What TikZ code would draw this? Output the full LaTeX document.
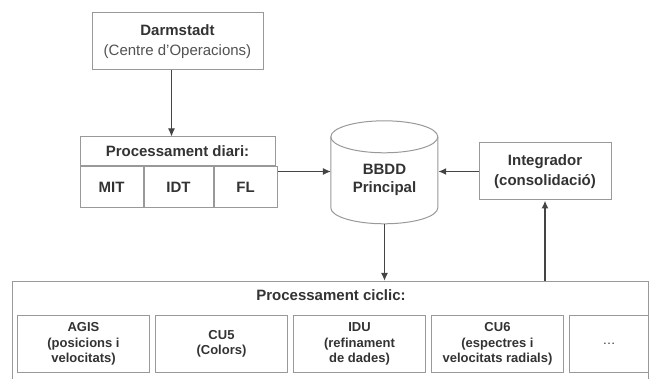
\documentclass[tikz,border=0pt]{standalone}
\usepackage{fontspec}
\setmainfont{Liberation Sans}
\usetikzlibrary{positioning,arrows.meta}
\definecolor{linegrey}{HTML}{999999}
\definecolor{arrowgrey}{HTML}{444444}
\definecolor{textgrey}{HTML}{333333}
\begin{document}
\begin{tikzpicture}[x=1pt,y=-1pt]

		\tikzstyle{box}=[rectangle,
			draw=linegrey,fill=white,line width=1pt,text=textgrey,
			inner sep=0pt,align=center,
			font=\fontsize{15}{20}\selectfont\bfseries]
		\tikzstyle{cell}=[box,minimum height=41pt]
		\tikzstyle{task}=[box,minimum width=132pt,minimum height=57pt,
			font=\fontsize{13}{15.5}\selectfont\bfseries]
		\tikzstyle{flow}=[->,>={Latex[length=8pt,width=7pt]},draw=arrowgrey,line width=1pt]
		\tikzstyle{bigflow}=[flow,line width=1.8pt]

		\useasboundingbox (0,0) rectangle (649,379);

		\node[box,minimum width=171pt,minimum height=57pt]	(darm)	at (177.5,41.5)	{Darmstadt\\{\mdseries\color{textgrey!85}(Centre d'Operacions)}};

		\node[box,minimum width=195pt,minimum height=29pt]	(diari)	at (177.5,151.5)	{Processament diari:};
		\node[cell,minimum width=63pt,anchor=north west]	(mit)	at (diari.south west)	{MIT};
		\node[cell,minimum width=69pt,right=0pt of mit]	(idt)	{IDT};
		\node[cell,minimum width=63pt,right=0pt of idt]	(fl)	{FL};

		\node[minimum width=107pt,minimum height=103pt,inner sep=0pt]	(bbdd)	at (384.5,172.5)	{};
		\draw[draw=linegrey,line width=1pt,fill=white] (bbdd.north west) ++(0,16) coordinate (bbddtop)
			-- ++(0,71) arc[start angle=180,end angle=360,x radius=53.5pt,y radius=16pt]
			-- ++(0,-71) arc[start angle=0,end angle=180,x radius=53.5pt,y radius=16pt] -- cycle;
		\draw[draw=linegrey,line width=1pt] (bbddtop) arc[start angle=180,end angle=360,x radius=53.5pt,y radius=16pt];
		\node[text=textgrey,align=center,font=\fontsize{15}{18}\selectfont\bfseries]	(bbddlabel)	at (384.5,180)	{BBDD\\Principal};

		\node[box,minimum width=132pt,minimum height=57pt]	(integ)	at (545,171.5)	{Integrador\\(consolidació)};

		\node[box,minimum width=636pt,minimum height=120pt,anchor=north west]	(ciclic)	at (12,281)	{};
		\node[text=textgrey,font=\fontsize{15}{19}\selectfont\bfseries]	(cicliclabel)	at (331,295)	{Processament ciclic:};

		\node[task,anchor=north west]	(agis)	at (17,315)	{AGIS\\(posicions i\\velocitats)};
		\node[task,right=5pt of agis]	(cufive)	{CU5\\(Colors)};
		\node[task,right=5pt of cufive]	(idu)	{IDU\\(refinament\\de dades)};
		\node[task,right=5pt of idu]	(cusix)	{CU6\\(espectres i\\velocitats radials)};
		\node[task,minimum width=79pt,right=5pt of cusix,font=\fontsize{13}{15.5}\selectfont]	(more)	{\ldots};

		\draw[flow] ([xshift=-6pt]darm.south) to ([xshift=-6pt]diari.north);
		\draw[flow] (fl.east |- integ.west) to (bbdd.west |- integ.west);
		\draw[bigflow] (integ.west) to (bbdd.east |- integ.west);
		\draw[bigflow] (bbdd.south) to (bbdd.south |- ciclic.north);
		\draw[bigflow] (integ.south |- ciclic.north) to (integ.south);

	\end{tikzpicture}
\end{document}
